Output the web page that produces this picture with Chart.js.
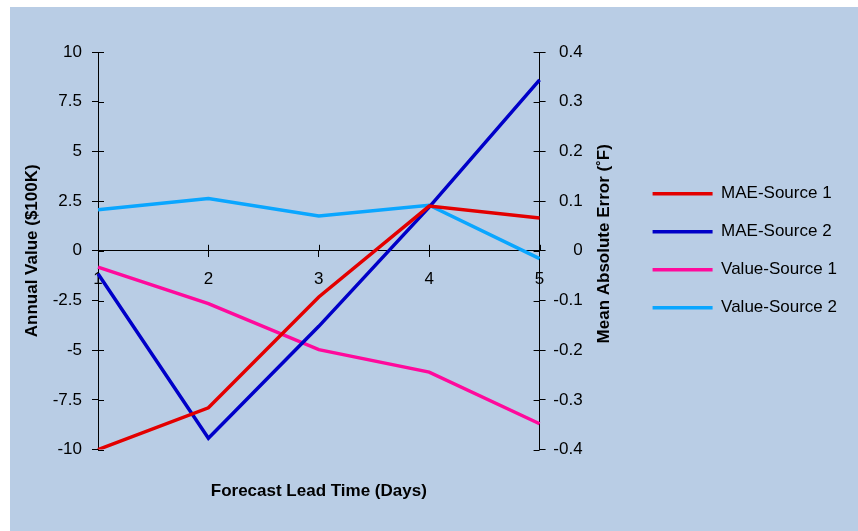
<!DOCTYPE html>
<html>
<head>
<meta charset="utf-8">
<script src="https://cdn.jsdelivr.net/npm/chart.js@4"></script>
<style>
  body { margin: 0; background: #fff; }
  #myChart { position: absolute; left: 10px; top: 7px; background: #B9CDE5; }
</style>
</head>
<body>
<canvas id="myChart" width="848" height="524"></canvas>
<script>
// lead time categories (days)
const leadDays = ['1', '2', '3', '4', '5'];

// mean absolute error, right axis
const maeSource1 = [-0.4, -0.316, -0.093, 0.09, 0.066];
const maeSource2 = [-0.046, -0.377, -0.152, 0.088, 0.344];

// annual value ($100K), left axis
const valueSource1 = [-0.82, -2.66, -4.97, -6.1, -8.7];
const valueSource2 = [2.07, 2.63, 1.75, 2.29, -0.39];

const leftTicks = { min: -10, max: 10, step: 2.5 };
const rightTicks = { min: -0.4, max: 0.4, step: 0.1 };

const fontName = "'Liberation Sans', Arial, sans-serif";
const ink = '#000';

// draws the inner half of each tick mark so they cross the axis lines
const crossTicks = {
  id: 'crossTicks',
  beforeDatasetsDraw(chart) {
    const ctx = chart.ctx;
    const x = chart.scales.x, y = chart.scales.y, y1 = chart.scales.y1;
    const zero = y.getPixelForValue(0);
    ctx.save();
    ctx.strokeStyle = ink;
    ctx.lineWidth = 1;
    ctx.beginPath();
    x.ticks.forEach((t, i) => {
      const px = Math.round(x.getPixelForTick(i)) + 0.5;
      ctx.moveTo(px, zero - 6);
      ctx.lineTo(px, zero);
    });
    y.ticks.forEach((t, i) => {
      const py = Math.round(y.getPixelForTick(i)) + 0.5;
      ctx.moveTo(chart.chartArea.left, py);
      ctx.lineTo(chart.chartArea.left + 6, py);
    });
    y1.ticks.forEach((t, i) => {
      const py = Math.round(y1.getPixelForTick(i)) + 0.5;
      ctx.moveTo(chart.chartArea.right - 6, py);
      ctx.lineTo(chart.chartArea.right, py);
    });
    ctx.stroke();
    ctx.restore();
  }
};

// right axis title reads bottom-to-top like the left one
const rightTitle = {
  id: 'rightTitle',
  afterDraw(chart) {
    const ctx = chart.ctx;
    const area = chart.chartArea;
    ctx.save();
    ctx.translate(chart.scales.y1.right + 22, (area.top + area.bottom) / 2 - 7);
    ctx.rotate(-Math.PI / 2);
    ctx.font = 'bold 17px ' + fontName;
    ctx.fillStyle = ink;
    ctx.textAlign = 'center';
    ctx.textBaseline = 'middle';
    ctx.fillText('Mean Absolute Error (˚F)', 0, 0);
    ctx.restore();
  }
};

window.onload = function() {
  var ctx = document.getElementById('myChart').getContext('2d');
  Chart.defaults.font.family = fontName;
  Chart.defaults.font.size = 17;
  Chart.defaults.color = ink;

  new Chart(ctx, {
    type: 'line',
    data: {
      labels: leadDays,
      datasets: [
        { label: 'MAE-Source 1', data: maeSource1, yAxisID: 'y1', borderColor: '#E30000', backgroundColor: '#E30000' },
        { label: 'MAE-Source 2', data: maeSource2, yAxisID: 'y1', borderColor: '#0000C8', backgroundColor: '#0000C8' },
        { label: 'Value-Source 1', data: valueSource1, yAxisID: 'y', borderColor: '#FF0A9C', backgroundColor: '#FF0A9C' },
        { label: 'Value-Source 2', data: valueSource2, yAxisID: 'y', borderColor: '#0AA6FF', backgroundColor: '#0AA6FF' },
      ],
    },
    options: {
      responsive: false,
      animation: false,
      devicePixelRatio: 1,
      layout: { padding: { top: 45, right: 11, bottom: 0, left: 0 } },
      elements: {
        line: { borderWidth: 3.5, tension: 0 },
        point: { radius: 0, borderWidth: 3.5 },
      },
      plugins: {
        tooltip: { enabled: false },
        legend: {
          position: 'right',
          fullSize: false,
          maxWidth: 320,
          labels: {
            usePointStyle: true,
            pointStyle: 'line',
            pointStyleWidth: 60,
            boxHeight: 17,
            padding: 21,
            color: ink,
            font: { size: 17 },
          },
        },
      },
      scales: {
        x: {
          type: 'category',
          position: { y: 0 },
          offset: false,
          grid: { drawOnChartArea: false, tickLength: 6, color: ink },
          border: { color: ink, width: 1 },
          ticks: { padding: 12, maxRotation: 0, autoSkip: false },
        },
        x2: {
          type: 'category',
          axis: 'x',
          position: 'bottom',
          grid: { display: false },
          border: { display: false },
          ticks: { display: false },
          title: {
            display: true,
            text: 'Forecast Lead Time (Days)',
            font: { size: 17, weight: 'bold' },
            padding: { top: 24, bottom: 29 },
          },
        },
        y: {
          position: 'left',
          min: leftTicks.min,
          max: leftTicks.max,
          grid: { drawOnChartArea: false, tickLength: 6, color: ink },
          border: { color: ink, width: 1 },
          ticks: { stepSize: leftTicks.step, padding: 10 },
          title: {
            display: true,
            text: 'Annual Value ($100K)',
            font: { size: 17, weight: 'bold' },
            padding: { top: 12, bottom: 0 },
          },
          afterFit: (scale) => { scale.width = 88; },
        },
        y1: {
          position: 'right',
          min: rightTicks.min,
          max: rightTicks.max,
          grid: { drawOnChartArea: false, tickLength: 6, color: ink },
          border: { color: ink, width: 1 },
          ticks: { stepSize: rightTicks.step, padding: 9, crossAlign: 'far' },
          afterFit: (scale) => { scale.width = 43; },
        },
        // empty spacer between the right axis labels and the legend (holds room for its title)
        y2: {
          type: 'linear',
          axis: 'y',
          position: 'right',
          weight: 1,
          grid: { display: false },
          border: { display: false },
          ticks: { display: false },
          afterFit: (scale) => { scale.width = 49; },
        },
      },
    },
    plugins: [crossTicks, rightTitle],
  });
};
</script>
</body>
</html>
